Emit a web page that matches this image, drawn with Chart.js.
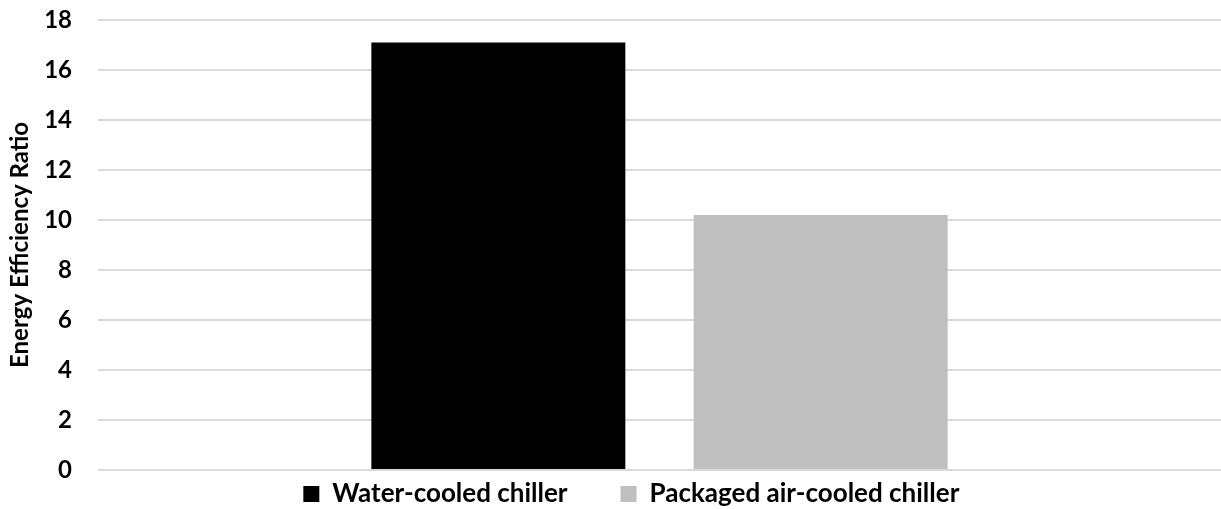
<!DOCTYPE html>
<html>
<head>
<meta charset="utf-8">
<script src="https://cdn.jsdelivr.net/npm/chart.js@4/dist/chart.umd.min.js"></script>
<style>
  html, body { margin: 0; padding: 0; background: #fff; }
  #wrap { width: 1221px; height: 509px; }
</style>
</head>
<body>
<div id="wrap"><canvas id="eerChart" width="1221" height="509"></canvas></div>
<script>
// chart values
var categories = [''];
var seriesNames = ['Water-cooled chiller', 'Packaged air-cooled chiller'];
var waterCooled = [17.1];
var airCooled = [10.2];
var seriesColors = ['#000000', '#bfbfbf'];
var yTicks = [0, 2, 4, 6, 8, 10, 12, 14, 16, 18];

var fontFamily = "Lato, 'Open Sans', sans-serif";
// trailing gaps so the legend items sit apart like the original
var legendGaps = ['\u00a0\u00a0\u00a0\u00a0\u00a0\u00a0\u00a0\u00a0', '\u00a0\u00a0\u00a0\u00a0\u00a0\u00a0\u00a0\u00a0\u00a0'];

const ctx = document.getElementById('eerChart').getContext('2d');
const eerChart = new Chart(ctx, {
    type: 'bar',
    data: {
        labels: categories,
        datasets: [{
            label: seriesNames[0],
            data: waterCooled,
            backgroundColor: seriesColors[0],
            borderWidth: 0
        }, {
            label: seriesNames[1],
            data: airCooled,
            backgroundColor: seriesColors[1],
            borderWidth: 0
        }]
    },
    options: {
        responsive: false,
        animation: false,
        categoryPercentage: 0.574,
        barPercentage: 0.788,
        layout: { padding: { left: 6, right: 0, top: 20, bottom: -8 } },
        plugins: {
            tooltip: { enabled: false },
            legend: {
                position: 'bottom',
                fullSize: false,
                labels: {
                    boxWidth: 16,
                    boxHeight: 16,
                    padding: 3,
                    color: '#000',
                    font: { family: fontFamily, size: 26, weight: 'bold' },
                    generateLabels: function(chart) {
                        const items = Chart.defaults.plugins.legend.labels.generateLabels(chart);
                        items.forEach(function(item, i) { item.text = item.text + legendGaps[i]; });
                        return items;
                    }
                }
            }
        },
        scales: {
            x: {
                grid: { display: false },
                border: { display: false },
                ticks: { display: false }
            },
            y: {
                min: 0,
                max: 18,
                afterBuildTicks: function(axis) {
                    axis.ticks = yTicks.map(function(v) { return { value: v }; });
                },
                // fixed axis width, and no extra room above the top tick
                afterFit: function(axis) {
                    axis.width = 92;
                    axis.paddingTop = 0;
                    axis.paddingBottom = 0;
                },
                grid: { color: '#d9d9d9', lineWidth: 2, drawTicks: false },
                border: { display: false },
                ticks: {
                    color: '#000',
                    padding: 26,
                    font: { family: fontFamily, size: 24, weight: 'bold' }
                },
                title: {
                    display: true,
                    text: 'Energy Efficiency Ratio',
                    color: '#000',
                    padding: { top: 0, bottom: 4 },
                    font: { family: fontFamily, size: 24, weight: 'bold' }
                }
            }
        }
    }
});
</script>
</body>
</html>
